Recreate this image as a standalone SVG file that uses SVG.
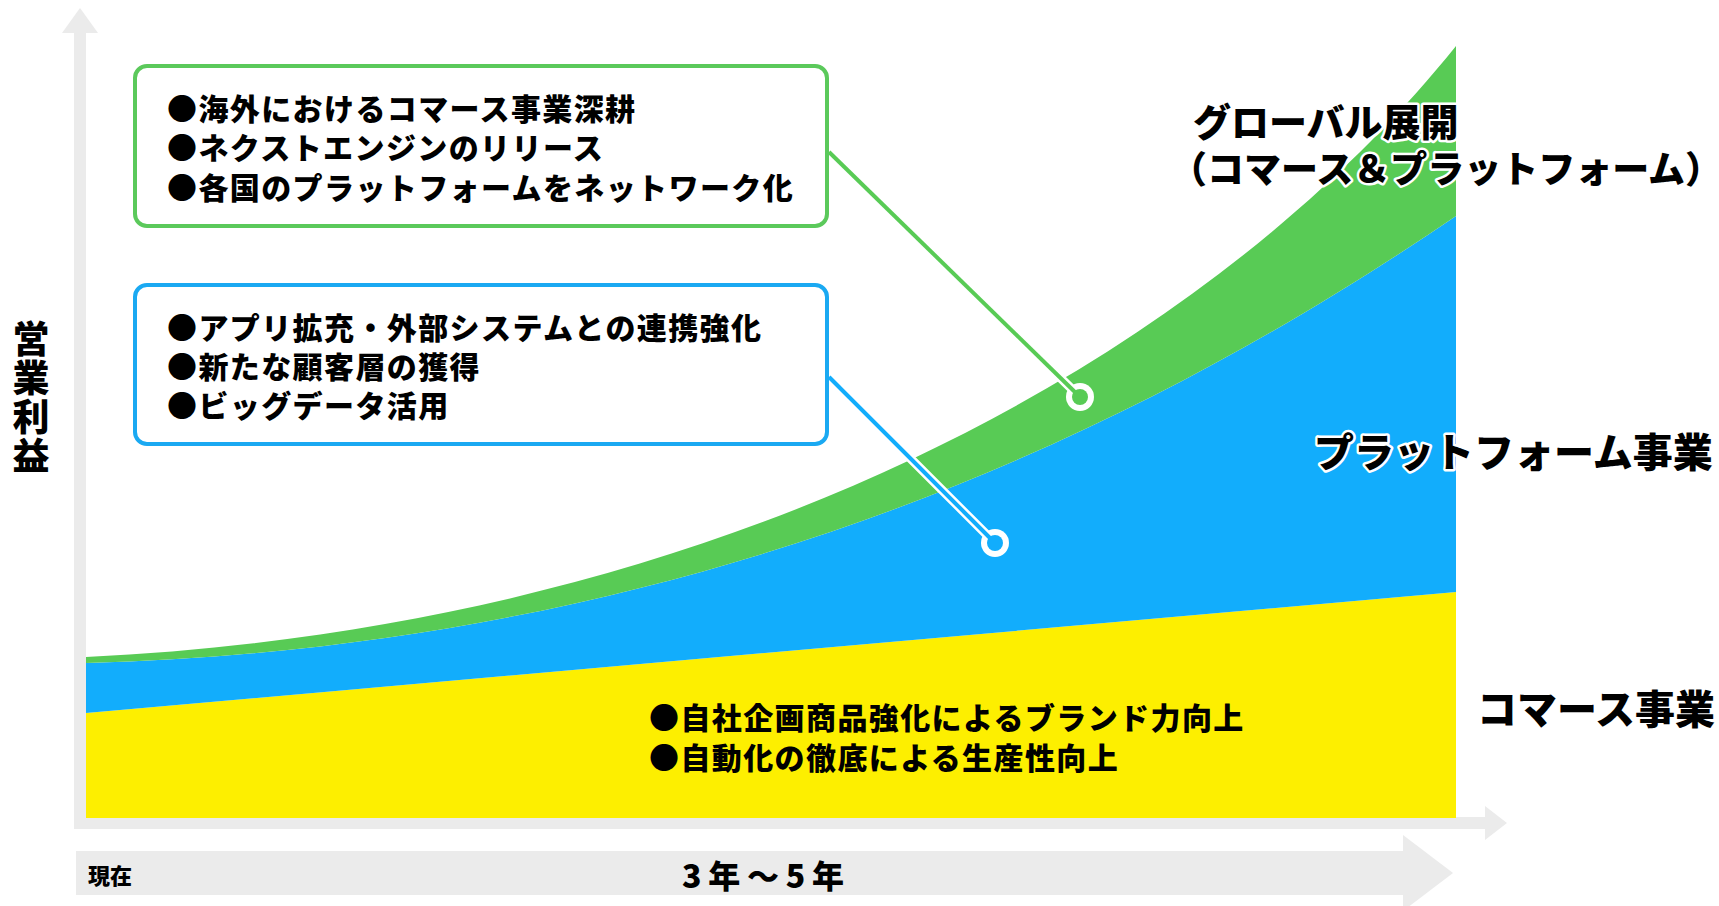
<svg xmlns="http://www.w3.org/2000/svg" width="1719" height="906" viewBox="0 0 1719 906">
<style>
.t{font-family:"Noto Sans CJK JP","Noto Sans CJK SC",sans-serif;font-weight:900;fill:#000}
.b{font-size:30px;letter-spacing:1.4px}
.lbl{stroke:#fff;stroke-width:5px;paint-order:stroke;stroke-linejoin:round}
.ax{fill:#ebebeb}
.box{fill:#fff;stroke-width:4}
.case{stroke:#fff;stroke-width:9;fill:none;stroke-linecap:round}
</style>
<rect width="1719" height="906" fill="#fff"/>
<g id="axes">
  <rect class="ax" x="74" y="30" width="12" height="799"/>
  <polygon class="ax" points="62,33 80,8 98,33"/>
  <rect class="ax" x="74" y="817" width="1412" height="12"/>
  <polygon class="ax" points="1485,806 1507,823 1485,840"/>
  <rect class="ax" x="76" y="851" width="1328" height="44"/>
  <polygon class="ax" points="1403,835 1453,873 1403,911"/>
  <text class="t" x="88" y="884" font-size="22">現在</text>
  <text class="t" x="682" y="888" font-size="32" textLength="162">3年～5年</text>
  <text class="t" x="31" y="320" font-size="37" writing-mode="tb" letter-spacing="2">営業利益</text>
</g>
<g id="commerce">
  <path d="M86,713 L1456,592 L1456,818 L86,818 Z" fill="#fdef00"/>
  <text class="t b" x="649" y="729">●自社企画商品強化によるブランド力向上</text>
  <text class="t b" x="649" y="769">●自動化の徹底による生産性向上</text>
</g>
<g id="platform">
  <path d="M86,663 C750,645 1200,390 1456,216 L1456,592 L86,713 Z" fill="#12adfc"/>
</g>
<g id="global">
  <path d="M86,657 C750,625 1220,340 1456,46 L1456,216 C1200,390 750,645 86,663 Z" fill="#58cb55"/>
</g>
<g id="connectors">
  <line class="case" x1="829" y1="152" x2="1080" y2="397"/>
  <circle cx="1080" cy="397" r="14" fill="#fff"/>
  <line x1="829" y1="152" x2="1080" y2="397" stroke="#58cb55" stroke-width="4"/>
  <circle cx="1080" cy="397" r="8" fill="#58cb55"/>
  <line class="case" x1="829" y1="377" x2="995" y2="543"/>
  <circle cx="995" cy="543" r="14" fill="#fff"/>
  <line x1="829" y1="377" x2="995" y2="543" stroke="#12adfc" stroke-width="4"/>
  <circle cx="995" cy="543" r="8" fill="#12adfc"/>
</g>
<g id="box-global">
  <rect class="box" x="135" y="66" width="692" height="160" rx="12" stroke="#5bc95b"/>
  <text class="t b" x="167" y="120">●海外におけるコマース事業深耕</text>
  <text class="t b" x="167" y="159">●ネクストエンジンのリリース</text>
  <text class="t b" x="167" y="199">●各国のプラットフォームをネットワーク化</text>
</g>
<g id="box-platform">
  <rect class="box" x="135" y="285" width="692" height="159" rx="12" stroke="#1aa9f2"/>
  <text class="t b" x="167" y="339">●アプリ拡充・外部システムとの連携強化</text>
  <text class="t b" x="167" y="378">●新たな顧客層の獲得</text>
  <text class="t b" x="167" y="417">●ビッグデータ活用</text>
</g>
<g id="labels">
  <text class="t lbl" x="1193" y="136" font-size="38">グローバル展開</text>
  <text class="t lbl" x="1170" y="183" font-size="37">（コマース＆プラットフォーム）</text>
  <text class="t lbl" x="1314" y="467" font-size="40">プラットフォーム事業</text>
  <text class="t lbl" x="1477" y="724" font-size="40">コマース事業</text>
</g>
</svg>
